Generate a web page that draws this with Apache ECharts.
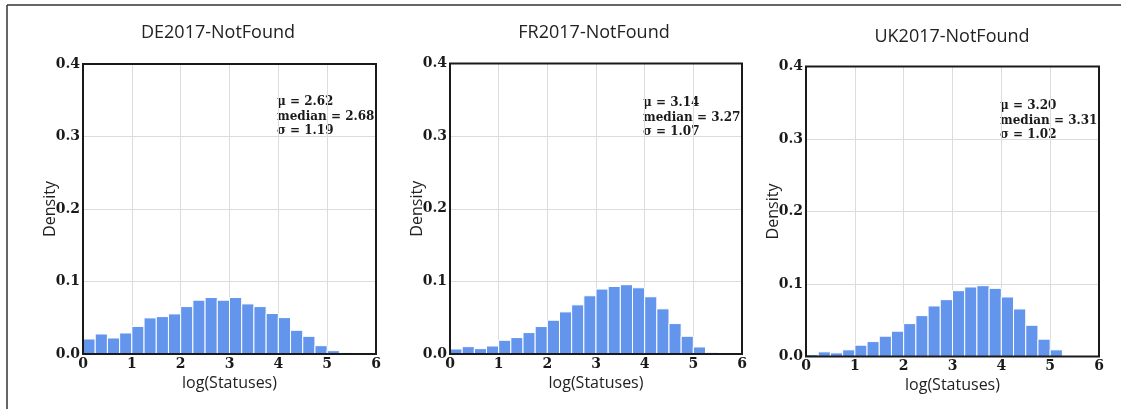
<!DOCTYPE html>
<html><head><meta charset="utf-8">
<script src="https://cdn.jsdelivr.net/npm/echarts@6/dist/echarts.min.js"></script>
<style>html,body{margin:0;padding:0;background:#fff}#c{width:1122px;height:409px}</style>
</head><body><div id="c"></div>
<script>
const titles = ['DE2017-NotFound', 'FR2017-NotFound', 'UK2017-NotFound'];
const binStarts = [0,0.25,0.5,0.75,1,1.25,1.5,1.75,2,2.25,2.5,2.75,3,3.25,3.5,3.75,4,4.25,4.5,4.75,5,5.25,5.5,5.75];
const binWidth = 0.25;
const deDensity = [0.0207,0.0276,0.0221,0.029,0.038,0.0498,0.0516,0.0553,0.0654,0.0742,0.0779,0.0742,0.0779,0.0691,0.0654,0.0558,0.0502,0.0327,0.0244,0.0115,0.0046,0.0018,0.001,0.0003];
const frDensity = [0.0069,0.0101,0.0074,0.011,0.0189,0.0226,0.0295,0.0378,0.0465,0.058,0.0677,0.0802,0.0894,0.093,0.0954,0.0912,0.0788,0.0622,0.0419,0.0244,0.0097,0.0023,0.0005,0.0001];
const ukDensity = [0.0028,0.0064,0.005,0.0092,0.0156,0.0206,0.028,0.0349,0.0454,0.0564,0.0697,0.0784,0.0908,0.0959,0.0977,0.094,0.0821,0.0656,0.0431,0.0239,0.0092,0.0014,0.0005,0.0001];
const statsMu = ['2.62', '3.14', '3.20'];
const statsMedian = ['2.68', '3.27', '3.31'];
const statsSigma = ['1.19', '1.07', '1.02'];
const xTicks = [0,1,2,3,4,5,6];
const yTicks = [0.0,0.1,0.2,0.3,0.4];

const allData = [deDensity, frDensity, ukDensity];
const grids = [
  {left: 83, top: 64, width: 293, height: 290},
  {left: 450, top: 63.5, width: 292, height: 290.5},
  {left: 806, top: 66.5, width: 293, height: 290}
];
const titlePos = [{x: 218, y: 33}, {x: 594, y: 33}, {x: 952, y: 37}];
const annot = [{x: 277, y: 102}, {x: 643, y: 103}, {x: 1000, y: 106}];

const chart = echarts.init(document.getElementById('c'), null, {renderer: 'canvas'});
const tickFont = {fontFamily: 'DejaVu Serif', fontWeight: 'bold', fontSize: 14, color: '#1a1a1a'};
const labelFont = 'Open Sans';

const option = {
  animation: false,
  backgroundColor: '#fff',
  grid: grids.map(g => Object.assign({containLabel: false, show: false}, g)),
  xAxis: grids.map((g, i) => ({
    type: 'value', gridIndex: i, min: 0, max: 6, interval: 1,
    name: 'log(Statuses)', nameLocation: 'middle', nameGap: 21, nameMoveOverlap: false,
    nameTextStyle: {fontFamily: labelFont, fontSize: 16, color: '#222'},
    axisLine: {show: false}, axisTick: {show: false},
    axisLabel: Object.assign({margin: 3, formatter: v => String(v)}, tickFont),
    splitLine: {show: true, lineStyle: {color: '#dcdcdc', width: 1}}
  })),
  yAxis: grids.map((g, i) => ({
    type: 'value', gridIndex: i, min: 0, max: 0.4, interval: 0.1,
    name: 'Density', nameLocation: 'middle', nameGap: 25, nameRotate: 90, nameMoveOverlap: false,
    nameTextStyle: {fontFamily: labelFont, fontSize: 16, color: '#222'},
    axisLine: {show: false}, axisTick: {show: false},
    axisLabel: Object.assign({margin: 3, formatter: v => v.toFixed(1)}, tickFont),
    splitLine: {show: true, lineStyle: {color: '#dcdcdc', width: 1}}
  })),
  series: allData.map((arr, i) => ({
    type: 'custom', xAxisIndex: i, yAxisIndex: i,
    data: binStarts.map((s, k) => [s, s + binWidth, arr[k]]),
    encode: {x: [0, 1], y: 2},
    renderItem: function (params, api) {
      const p0 = api.coord([api.value(0), api.value(2)]);
      const p1 = api.coord([api.value(1), 0]);
      return {
        type: 'rect',
        shape: {x: p0[0], y: p0[1], width: p1[0] - p0[0], height: p1[1] - p0[1]},
        style: {fill: '#6495ED', stroke: '#ffffff', lineWidth: 1}
      };
    }
  })),
  graphic: [
    {type: 'line', shape: {x1: 7, y1: 5, x2: 1121, y2: 5}, style: {stroke: '#333', lineWidth: 1.5}, silent: true},
    {type: 'line', shape: {x1: 7, y1: 5, x2: 7, y2: 409}, style: {stroke: '#333', lineWidth: 1.5}, silent: true}
  ].concat(grids.map(g => ({
    type: 'rect', z: 100, silent: true,
    shape: {x: g.left, y: g.top, width: g.width, height: g.height},
    style: {fill: 'none', stroke: '#1a1a1a', lineWidth: 2}
  }))).concat(titles.map((t, i) => ({
    type: 'text', x: titlePos[i].x, y: titlePos[i].y,
    style: {text: t, fontFamily: labelFont, fontSize: 18, fill: '#222', textAlign: 'center', textVerticalAlign: 'middle'}
  }))).concat(titles.map((t, i) => ({
    type: 'text', x: annot[i].x, y: annot[i].y + 14.5,
    style: {
      text: 'μ = ' + statsMu[i] + '\nmedian = ' + statsMedian[i] + '\nσ = ' + statsSigma[i],
      fontFamily: 'DejaVu Serif', fontWeight: 'bold', fontSize: 12, lineHeight: 14.5, fill: '#1a1a1a',
      textAlign: 'left', textVerticalAlign: 'middle'
    }
  })))
};
chart.setOption(option);
</script></body></html>
